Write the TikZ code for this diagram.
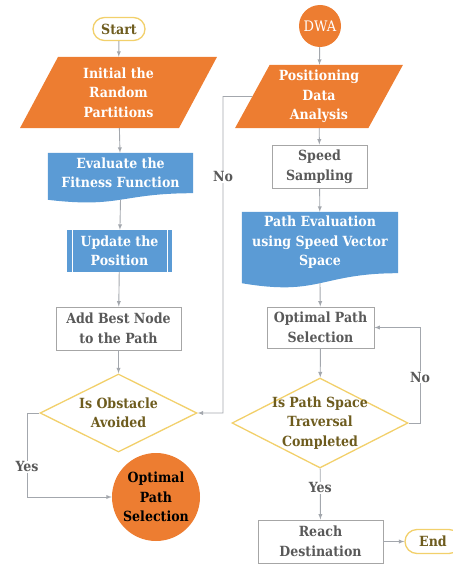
\documentclass[tikz,border=0pt]{standalone}
\usepackage{fontspec}
\setmainfont{DejaVu Serif Condensed}
\usetikzlibrary{shapes.geometric,calc}
\definecolor{flowOrange}{HTML}{ED7D31}
\definecolor{flowBlue}{HTML}{5B9BD5}
\definecolor{flowGold}{HTML}{F2D06B}
\definecolor{flowOlive}{HTML}{6E5C1E}
\definecolor{flowGray}{HTML}{595959}
\definecolor{flowLine}{HTML}{A3A7AD}
\definecolor{flowBorder}{HTML}{A6A6A6}
\pgfdeclarelayer{background}
\pgfsetlayers{background,main}
% wavy bottom of a document box: node, depth of left end, depth of control
\newcommand{\docwave}[3]{%
  \begin{pgfonlayer}{background}
  \fill[flowBlue] (#1.north west) -- (#1.north east) -- (#1.south east)
    .. controls (#1.south) and ([yshift=-#3pt]#1.south) .. ([yshift=-#2pt]#1.south west) -- cycle;
  \end{pgfonlayer}
  \coordinate (#1-b) at ([yshift=-#2pt]#1.south);}
\begin{document}
\begin{tikzpicture}[x=1pt, y=1pt, >=latex,
  font=\fontsize{14}{19.5}\selectfont\bfseries,
  terminal/.style={rectangle, rounded corners=11.5pt, draw=flowGold, line width=1.3pt,
    fill=white, text=flowOlive, minimum width=52pt, minimum height=23pt, inner sep=0pt},
  dataio/.style={trapezium, trapezium stretches=true, fill=flowOrange, text=white,
    align=center, inner sep=0pt},
  docbox/.style={rectangle, text=white, align=center, inner sep=0pt},
  procbox/.style={rectangle, fill=flowBlue, text=white, align=center, inner sep=0pt,
    path picture={
      \draw[white, line width=0.8pt] ([xshift=5pt]path picture bounding box.north west) -- ([xshift=5pt]path picture bounding box.south west);
      \draw[white, line width=0.8pt] ([xshift=-5pt]path picture bounding box.north east) -- ([xshift=-5pt]path picture bounding box.south east);}},
  stepbox/.style={rectangle, draw=flowBorder, line width=0.9pt, fill=white, text=flowGray,
    align=center, inner sep=0pt},
  decision/.style={diamond, draw=flowGold, line width=1.3pt, fill=white, text=flowOlive,
    align=center},
  roundbox/.style={circle, fill=flowOrange, align=center, inner sep=0pt},
  link/.style={draw=flowLine, line width=0.9pt, ->},
  tag/.style={fill=white, text=flowGray, inner sep=1pt}]
\useasboundingbox (0,0) rectangle (452,-567);
% left column
\node[terminal] (start) at (119,-29) {Start};
\node[dataio, trapezium left angle=66, trapezium right angle=114,
  minimum width=197pt, minimum height=71pt] (init) at (118.5,-92.5) {Initial the\\Random\\Partitions};
\node[docbox, minimum width=145pt, minimum height=40pt] (eval) at (120.5,-173) {Evaluate the\\Fitness Function};
\docwave{eval}{6.6}{15.2}
\node[procbox, minimum width=105pt, minimum height=42pt] (update) at (119.5,-251) {Update the\\Position};
\node[stepbox, minimum width=125pt, minimum height=43pt] (addbest) at (118.5,-328.5) {Add Best Node\\to the Path};
\node[decision, aspect=2, minimum width=157pt, minimum height=78pt, inner sep=0pt] (obst) at (118.5,-413) {Is Obstacle\\Avoided};
\node[roundbox, minimum size=88pt, text=black] (opt) at (156,-497) {Optimal\\Path\\Selection};
% right column
\node[roundbox, minimum size=42pt, text=white, font=\fontsize{14.5}{19}\selectfont\mdseries] (dwa) at (320,-26) {DWA};
\node[dataio, trapezium left angle=62, trapezium right angle=118,
  minimum width=168pt, minimum height=63pt] (posn) at (319,-96.5) {Positioning\\Data\\Analysis};
\node[stepbox, minimum width=95pt, minimum height=43pt] (speed) at (319.5,-166.5) {Speed\\Sampling};
\node[docbox, minimum width=156pt, minimum height=61pt] (pathev) at (320,-242.5) {Path Evaluation\\using Speed Vector\\Space};
\docwave{pathev}{10}{23.3}
\node[stepbox, minimum width=107pt, minimum height=41pt] (optsel) at (320.5,-327.5) {Optimal Path\\Selection};
\node[decision, aspect=1.96, minimum width=176pt, minimum height=90pt, inner sep=-4pt] (trav) at (320,-423) {Is Path Space\\Traversal\\Completed};
\node[stepbox, minimum width=125pt, minimum height=43pt] (reach) at (320.5,-541.5) {Reach\\Destination};
\node[terminal, minimum width=56pt, minimum height=24pt, rounded corners=12pt] (endt) at (433,-541.5) {End};
% connectors
\coordinate (yesL) at (27,-413);
\coordinate (noL) at (223,-96.5);
\coordinate (noR) at (420,-423);
\draw[link] (start) -- (init);
\draw[link] (init) -- (eval);
\draw[link] (eval-b) -- (update);
\draw[link] (update) -- (addbest);
\draw[link] (addbest) -- (obst);
\draw[link] (obst.west) -- (yesL) |- (opt.west) node[tag, pos=0.32] {Yes};
\draw[link] (posn.west) -- (noL) |- (obst.east) node[tag, pos=0.127] {No};
\draw[link] (dwa) -- (posn);
\draw[link] (posn) -- (speed);
\draw[link] (speed) -- (pathev);
\draw[link] (pathev-b) -- (optsel);
\draw[link] (optsel) -- (trav);
\draw[link] (trav.east) -- (noR) |- (optsel.east) node[tag, pos=0.24] {No};
\draw[link] (trav) -- (reach) node[tag, pos=0.38] {Yes};
\draw[link] (reach) -- (endt);
\end{tikzpicture}
\end{document}
